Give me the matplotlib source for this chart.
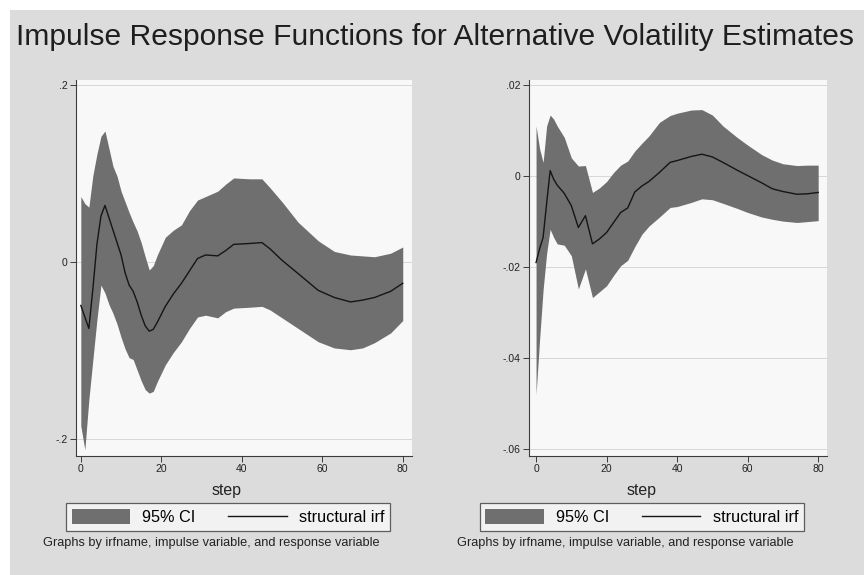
import numpy as np
import matplotlib
matplotlib.use('Agg')
import matplotlib.pyplot as plt
from matplotlib.patches import Patch, Rectangle
from matplotlib.lines import Line2D

# --- irf panel 1 (steps, structural irf, 95% CI bounds) ---
STEP_A = [0, 1, 2, 3, 4, 5, 6, 7, 8, 9, 10, 11, 12, 13, 14, 15, 16, 17, 18, 19,
          21, 23, 25, 27, 29, 31, 34, 36, 38, 42, 45, 47, 50, 54, 59, 63, 67,
          70, 73, 77, 80]
IRF_A = [-0.049, -0.062, -0.075, -0.030, 0.020, 0.052, 0.064, 0.050, 0.036,
         0.022, 0.008, -0.012, -0.026, -0.033, -0.045, -0.060, -0.072, -0.078,
         -0.076, -0.068, -0.050, -0.036, -0.024, -0.010, 0.004, 0.008, 0.007,
         0.013, 0.020, 0.021, 0.022, 0.015, 0.002, -0.013, -0.032, -0.040,
         -0.045, -0.043, -0.040, -0.033, -0.024]
UPPER_A = [0.074, 0.066, 0.062, 0.098, 0.122, 0.142, 0.148, 0.128, 0.108,
           0.097, 0.080, 0.068, 0.056, 0.045, 0.035, 0.022, 0.006, -0.009,
           -0.004, 0.008, 0.028, 0.036, 0.042, 0.058, 0.070, 0.074, 0.080,
           0.088, 0.095, 0.094, 0.094, 0.084, 0.068, 0.045, 0.024, 0.012,
           0.008, 0.007, 0.006, 0.010, 0.017]
LOWER_A = [-0.185, -0.212, -0.155, -0.110, -0.065, -0.026, -0.035, -0.048,
           -0.058, -0.070, -0.085, -0.098, -0.108, -0.110, -0.122, -0.134,
           -0.144, -0.148, -0.146, -0.135, -0.116, -0.102, -0.090, -0.075,
           -0.062, -0.060, -0.063, -0.056, -0.052, -0.051, -0.050, -0.054,
           -0.063, -0.075, -0.090, -0.097, -0.099, -0.097, -0.091, -0.080,
           -0.066]

# --- irf panel 2 ---
STEP_B = [0, 1, 2, 3, 4, 5, 6, 8, 10, 12, 14, 16, 18, 20, 22, 24, 26, 28, 30,
          32, 35, 38, 40, 44, 47, 50, 53, 57, 60, 64, 67, 70, 74, 77, 80]
IRF_B = [-0.0190, -0.0160, -0.0135, -0.0060, 0.0012, -0.0007, -0.0020,
         -0.0038, -0.0065, -0.0113, -0.0087, -0.0149, -0.0138, -0.0124,
         -0.0102, -0.0080, -0.0070, -0.0035, -0.0022, -0.0012, 0.0008, 0.0030,
         0.0034, 0.0043, 0.0048, 0.0042, 0.0030, 0.0013, 0.0001, -0.0015,
         -0.0028, -0.0034, -0.0040, -0.0039, -0.0036]
UPPER_B = [0.0110, 0.0060, 0.0030, 0.0110, 0.0134, 0.0125, 0.0110, 0.0085,
           0.0040, 0.0022, 0.0023, -0.0036, -0.0026, -0.0012, 0.0008, 0.0024,
           0.0033, 0.0055, 0.0072, 0.0088, 0.0118, 0.0133, 0.0138, 0.0145,
           0.0146, 0.0134, 0.0110, 0.0085, 0.0068, 0.0047, 0.0035, 0.0027,
           0.0023, 0.0024, 0.0024]
LOWER_B = [-0.0480, -0.0360, -0.0250, -0.0170, -0.0117, -0.0135, -0.0149,
           -0.0152, -0.0175, -0.0248, -0.0204, -0.0267, -0.0254, -0.0241,
           -0.0218, -0.0197, -0.0185, -0.0155, -0.0128, -0.0110, -0.0090,
           -0.0069, -0.0067, -0.0058, -0.0050, -0.0052, -0.0060, -0.0071,
           -0.0080, -0.0090, -0.0095, -0.0099, -0.0102, -0.0100, -0.0098]

YTICKS_A = [-0.2, 0, 0.2]
YLABELS_A = ['-.2', '0', '.2']
YTICKS_B = [-0.06, -0.04, -0.02, 0, 0.02]
YLABELS_B = ['-.06', '-.04', '-.02', '0', '.02']
XTICKS = [0, 20, 40, 60, 80]

TITULO = 'Impulse Response Functions for Alternative Volatility Estimates'
NOTA = 'Graphs by irfname, impulse variable, and response variable'

# --- estilo ---
FONDO = '#dcdcdc'
PLOT_BG = '#f8f8f8'
BANDA = '#6f6f6f'
LINEA = '#151515'
plt.rcParams['font.family'] = ['Liberation Sans', 'DejaVu Sans']

fig = plt.figure(figsize=(8.64, 5.75), dpi=100, facecolor='white')
fig.patches.append(Rectangle((10 / 864, 0), 1, 1 - 10 / 575,
                             transform=fig.transFigure, facecolor=FONDO,
                             edgecolor='none', zorder=-10))

ax1 = fig.add_axes([76 / 864, 1 - 456 / 575, 336 / 864, 376 / 575])
ax2 = fig.add_axes([529 / 864, 1 - 456 / 575, 298 / 864, 376 / 575])

paneles = [
    (ax1, STEP_A, IRF_A, UPPER_A, LOWER_A, YTICKS_A, YLABELS_A,
     (-1.2, 82.3), (-0.219, 0.2056)),
    (ax2, STEP_B, IRF_B, UPPER_B, LOWER_B, YTICKS_B, YLABELS_B,
     (-2.0, 82.5), (-0.0615, 0.0211)),
]

for ax, st, irf, up, lo, yt, yl, xlim, ylim in paneles:
    ax.set_facecolor(PLOT_BG)
    ax.fill_between(st, lo, up, color=BANDA, linewidth=0, zorder=2)
    ax.plot(st, irf, color=LINEA, linewidth=1.0, zorder=3)
    ax.set_xlim(*xlim)
    ax.set_ylim(*ylim)
    ax.set_yticks(yt)
    ax.set_yticklabels(yl)
    ax.set_xticks(XTICKS)
    for v in yt:
        ax.axhline(v, color='#d6d6d6', linewidth=0.7, zorder=1)
    ax.spines['top'].set_visible(False)
    ax.spines['right'].set_visible(False)
    for s in ('left', 'bottom'):
        ax.spines[s].set_color('#3c3c3c')
        ax.spines[s].set_linewidth(0.8)
    ax.tick_params(axis='both', direction='out', length=4.5, width=0.7,
                   color='#3c3c3c', labelsize=7.5, pad=1.5,
                   labelcolor='#222222')

# --- textos ---
fig.text(16 / 864, 1 - 45 / 575, TITULO, fontsize=21.6, color='#1e1e1e',
         ha='left', va='baseline')

for cx_step, cx_leg, cx_nota in [(227, 228, 211), (641.7, 641.7, 625)]:
    fig.text(cx_step / 864, 1 - 490 / 575, 'step', fontsize=11.4,
             color='#222222', ha='center', va='center')
    handles = [Patch(facecolor=BANDA, edgecolor='none'),
               Line2D([0], [0], color=LINEA, linewidth=1.0)]
    leg = fig.legend(handles, ['95% CI', 'structural irf'], ncol=2,
                     loc='center', bbox_to_anchor=(cx_leg / 864, 1 - 517 / 575),
                     fontsize=11.7, frameon=True, fancybox=False,
                     handlelength=3.6, handleheight=1.0, handletextpad=0.75,
                     columnspacing=2.0, borderpad=0.35, borderaxespad=0)
    leg.get_frame().set_facecolor('#f8f8f8')
    leg.get_frame().set_edgecolor('#3c3c3c')
    leg.get_frame().set_linewidth(0.9)
    fig.text(cx_nota / 864, 1 - 543 / 575, NOTA, fontsize=9.2,
             color='#222222', ha='center', va='center')

fig.savefig('out.png', dpi=100, facecolor=fig.get_facecolor())
